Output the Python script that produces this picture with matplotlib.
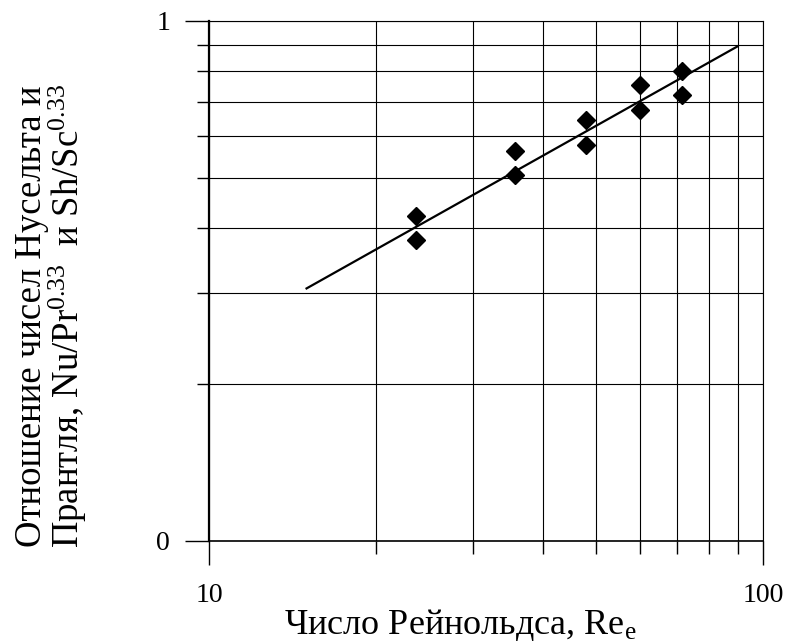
import matplotlib
matplotlib.use("Agg")
import matplotlib.pyplot as plt
from matplotlib.ticker import FixedLocator, NullFormatter, FixedFormatter

plt.rcParams['font.family'] = ['Liberation Serif', 'DejaVu Serif']
plt.rcParams['mathtext.fontset'] = 'custom'
plt.rcParams['mathtext.rm'] = 'Liberation Serif'
plt.rcParams['mathtext.it'] = 'Liberation Serif:italic'

# Data
re_points = [23.6, 23.6, 35.6, 35.6, 47.9, 47.9, 60.0, 60.0, 71.5, 71.5]
ratio_points = [0.421, 0.379, 0.563, 0.506, 0.644, 0.578, 0.752, 0.675, 0.802, 0.722]
fit_re = [15.0, 90.0]
fit_ratio = [0.306, 0.894]

x_major = [10, 100]
x_major_labels = ["10", "100"]
x_minor = [20, 30, 40, 50, 60, 70, 80, 90]
y_major = [0.1, 1.0]
y_major_labels = ["0", "1"]
y_minor = [0.2, 0.3, 0.4, 0.5, 0.6, 0.7, 0.8, 0.9]

W, H = 789, 643
fig = plt.figure(figsize=(W / 100, H / 100), dpi=100)
ax = fig.add_axes([209 / W, 1 - 541 / H, (763 - 209) / W, (541 - 21) / H])

ax.set_xscale('log')
ax.set_yscale('log')
ax.set_xlim(10, 100)
ax.set_ylim(0.1, 1.0)

ax.plot(fit_re, fit_ratio, color='black', lw=1.6, zorder=3)
ax.plot(re_points, ratio_points, linestyle='none', marker='D', markersize=9,
        color='black', zorder=4, clip_on=False)

ax.xaxis.set_major_locator(FixedLocator(x_major))
ax.xaxis.set_major_formatter(FixedFormatter(x_major_labels))
ax.xaxis.set_minor_locator(FixedLocator(x_minor))
ax.xaxis.set_minor_formatter(NullFormatter())
ax.yaxis.set_major_locator(FixedLocator(y_major))
ax.yaxis.set_major_formatter(FixedFormatter(y_major_labels))
ax.yaxis.set_minor_locator(FixedLocator(y_minor))
ax.yaxis.set_minor_formatter(NullFormatter())

ax.grid(True, which='both', color='black', lw=0.8)
ax.set_axisbelow(True)

for s in ax.spines.values():
    s.set_color('black')
    s.set_linewidth(0.8)
ax.spines['left'].set_linewidth(1.6)
ax.spines['bottom'].set_linewidth(1.2)

ax.tick_params(which='major', direction='out', length=17, width=1.0, color='black',
               labelsize=20)
ax.tick_params(which='minor', direction='out', length=9, width=1.0, color='black')
ax.tick_params(axis='x', which='major', pad=13)
ax.tick_params(axis='y', which='major', pad=11)

fig.text(460 / W, 1 - 634 / H, r"Число Рейнольдса, Re$_{\mathregular{e}}$",
         fontsize=26, ha='center', va='baseline')
fig.text(52 / W, 1 - 316 / H,
         "Отношение чисел Нусельта и\n"
         r"Прантля, Nu/Pr$^{\mathregular{0.33}}$  и Sh/Sc$^{\mathregular{0.33}}$",
         fontsize=26.5, rotation=90, ha='center', va='center',
         multialignment='center', linespacing=0.95)

fig.savefig("out.png", dpi=100)
